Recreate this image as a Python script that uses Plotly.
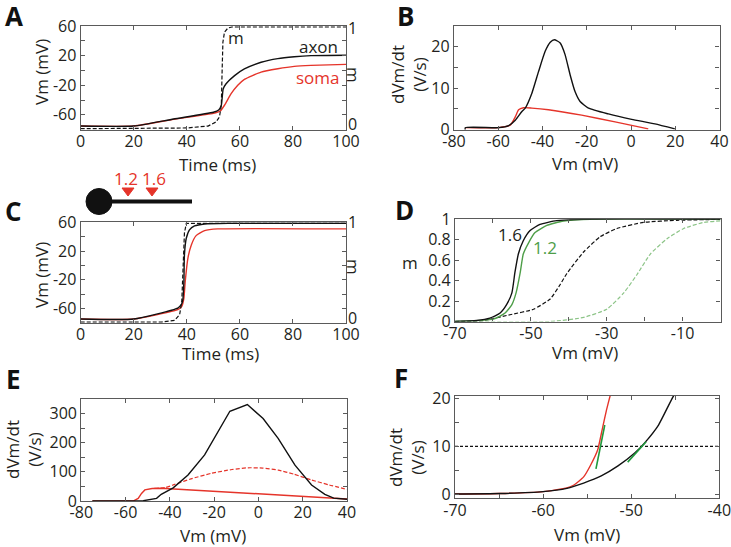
import plotly.graph_objects as go

W, H = 731, 547


def px(x):
    return x / W


def py(y):
    return 1 - y / H


# ---- panel A: voltage traces and m (time course) ----
a_axon_t = [0, 20, 35, 50, 52, 53, 53.7, 54.8, 58, 61.7, 68, 74.3, 80.5, 86.8, 100]
a_axon_v = [-75, -75, -65.5, -56.5, -53.5, -47, -25, -18, -7, 2, 11, 16, 18.5, 20, 20.5]
a_soma_t = [0, 20, 35, 50, 52.5, 54.2, 56.7, 59.2, 61.7, 68, 74.3, 80.5, 86.8, 100]
a_soma_v = [-75, -75, -66, -58, -55, -47, -31.4, -20, -12, -2.2, 2.3, 5.5, 6.8, 8.2]
a_m_t = [0, 20, 40, 48, 51, 52.3, 53, 53.3, 53.6, 54.2, 55.5, 57, 100]
a_m = [0, 0, 0.007, 0.026, 0.066, 0.115, 0.23, 0.56, 0.85, 0.95, 0.99, 1.0, 1.0]

# ---- panel B: phase plot ----
b_axon_v = [-74.9, -74.9, -59.8, -55.3, -52.3, -49.3, -47.8, -44.8, -41.8, -38.8, -36.5, -34.6,
            -32, -29.8, -27.5, -25.3, -23, -19.2, -10.2, 0.3, 10.8, 19.8]
b_axon_dv = [0, 0.5, 0.5, 1.0, 2.3, 4.4, 5.2, 8.8, 14, 18.9, 21.1, 21.7,
             20.9, 18.1, 13.2, 9.2, 6.8, 5.2, 3.8, 2.5, 1.4, 0.2]
b_soma_v = [-74.9, -59.8, -54.6, -52.3, -50.8, -48.6, -44.8, -37.3, -22.3, -7.2, 7.8]
b_soma_dv = [0.5, 0.5, 1.1, 3.1, 4.8, 5.3, 5.2, 4.8, 3.5, 1.9, 0.2]

# ---- panel C: high Na density ----
c_axon_t = [0, 20, 36.6, 37.9, 38.5, 38.9, 39.1, 39.8, 41, 42.9, 46.7, 55.5, 100]
c_axon_v = [-74.5, -74.5, -59.2, -54.6, -47.7, -22.3, 14.7, 37.8, 49.4, 54.9, 57.7, 58.6, 58.6]
c_soma_t = [0, 20, 36.6, 38.1, 38.9, 39.4, 40.4, 41.7, 43.5, 46.7, 51.7, 100]
c_soma_v = [-74.5, -74.5, -61.5, -56.9, -45.4, -22.3, 10, 28.6, 41.5, 48.4, 50.8, 50.8]
c_m_t = [0, 30.4, 35.4, 37.3, 38.1, 38.6, 39.1, 39.8, 100]
c_m = [0, 0, 0.017, 0.076, 0.21, 0.56, 0.9, 1.0, 1.0]

# ---- panel D: activation curves ----
d_16_v = [-70, -64.3, -60.8, -58.1, -56.4, -55.0, -54.2, -53.3, -52.0, -50.2, -47.6, -43.2, -36.1, 0]
d_16_m = [0, 0.01, 0.033, 0.083, 0.165, 0.28, 0.48, 0.66, 0.79, 0.89, 0.95, 0.987, 1.0, 1.0]
d_12_v = [-70, -59.9, -56.8, -55.0, -53.9, -52.8, -52.0, -50.6, -48.9, -45.8, -41.4, -34.3, 0]
d_12_m = [0, 0.023, 0.083, 0.165, 0.28, 0.48, 0.66, 0.77, 0.87, 0.94, 0.983, 1.0, 1.0]
d_16d_v = [-70, -62.5, -55.5, -49.3, -44.9, -42.3, -40.5, -36.1, -31.7, -27.3, -20.3, -11.5, 0]
d_16d_m = [0, 0.01, 0.066, 0.12, 0.22, 0.36, 0.47, 0.68, 0.83, 0.91, 0.97, 0.99, 1.0]
d_12d_v = [-70, -44.9, -36.1, -30, -25.5, -22, -18.5, -14.1, -9.7, -4.4, 0]
d_12d_m = [0, 0, 0.04, 0.12, 0.28, 0.46, 0.66, 0.81, 0.91, 0.97, 0.985]

# ---- panel E: phase plot, high density ----
e_axon_v = [-75, -56, -52, -46, -43.9, -38.5, -31.8, -24.3, -18.2, -12.9, -5.0, 2.1, 8.9, 16.5, 24, 30, 34, 40]
e_axon_dv = [0, 0, 1, 9, 23, 45, 89, 158, 237, 308, 331, 283, 215, 123, 55, 23, 10, 6]
e_soma_v = [-75, -56.6, -54.3, -52.8, -51.3, -48, -44, -20, 0, 20, 40]
e_soma_dv = [0, 0, 9, 26, 38, 43, 44, 33, 24, 15, 7]
e_somad_v = [-47, -42, -37.8, -30, -21.3, -12, -4.7, 2, 8.9, 16, 24, 32, 40]
e_somad_dv = [43, 46, 57, 77, 95, 108, 114, 113, 106, 92, 72, 55, 40]

# ---- panel F: onset rapidness ----
f_axon_v = [-70, -64.9, -60, -57.3, -55.4, -53.4, -51.5, -49.6, -48.5, -46.9, -45.2, -44.9]
f_axon_dv = [0, 0.1, 0.5, 1.2, 2.3, 3.8, 5.9, 8.6, 10.7, 14.5, 20.6, 21.2]
f_soma_v = [-70, -64.9, -60, -57.3, -56.5, -55.4, -54.6, -53.8, -53.3, -52.8, -52.4, -52.3]
f_soma_dv = [0, 0.1, 0.5, 1.3, 1.9, 3.6, 6.1, 9.3, 13.5, 17.7, 20.6, 21.3]
f_tan1_v = [-54.0, -53.0]
f_tan1_dv = [5.3, 14.5]
f_tan2_v = [-50.4, -48.3]
f_tan2_dv = [6.7, 11]
f_thresh = 10

BLACK = "#111111"
RED = "#e5342a"
GREEN = "#4e9e48"
LGREEN = "#8cc487"
TGREEN = "#1f9a3d"
AX = "#5a5a5a"
TXT = "#231f20"
FONT = "Open Sans"
FS = 17    # titles / labels
TFS = 16   # tick labels

fig = go.Figure()


def add_line(x, y, xa, ya, color, dash="solid", width=1.4, shape="spline"):
    fig.add_trace(go.Scatter(x=x, y=y, xaxis=xa, yaxis=ya, mode="lines",
                             line=dict(color=color, width=width, dash=dash, shape=shape, smoothing=0.5),
                             showlegend=False, hoverinfo="skip"))


DASH = "4px,2px"
add_line(a_m_t, a_m, "x", "y7", BLACK, DASH, 1.2, "linear")
add_line(a_soma_t, a_soma_v, "x", "y", RED)
add_line(a_axon_t, a_axon_v, "x", "y", BLACK)

add_line(b_soma_v, b_soma_dv, "x2", "y2", RED)
add_line(b_axon_v, b_axon_dv, "x2", "y2", BLACK)

add_line(c_m_t, c_m, "x3", "y8", BLACK, DASH, 1.2, "linear")
add_line(c_soma_t, c_soma_v, "x3", "y3", RED)
add_line(c_axon_t, c_axon_v, "x3", "y3", BLACK)

add_line(d_12d_v, d_12d_m, "x4", "y4", LGREEN, DASH, 1.2)
add_line(d_16d_v, d_16d_m, "x4", "y4", BLACK, DASH, 1.2)
add_line(d_12_v, d_12_m, "x4", "y4", GREEN)
add_line(d_16_v, d_16_m, "x4", "y4", BLACK)

add_line(e_somad_v, e_somad_dv, "x5", "y5", RED, DASH, 1.2)
add_line(e_soma_v, e_soma_dv, "x5", "y5", RED, shape="linear")
add_line(e_axon_v, e_axon_dv, "x5", "y5", BLACK, shape="linear")

fig.add_trace(go.Scatter(x=[-70, -40], y=[f_thresh, f_thresh], xaxis="x6", yaxis="y6", mode="lines",
                         line=dict(color=BLACK, width=1.2, dash="3px,2px"), showlegend=False, hoverinfo="skip"))
add_line(f_soma_v, f_soma_dv, "x6", "y6", RED)
add_line(f_axon_v, f_axon_dv, "x6", "y6", BLACK)
add_line(f_tan1_v, f_tan1_dv, "x6", "y6", TGREEN, width=1.6, shape="linear")
add_line(f_tan2_v, f_tan2_dv, "x6", "y6", TGREEN, width=1.6, shape="linear")


def axis(dom, anchor, rng, vals, labels, standoff=0):
    return dict(domain=dom, anchor=anchor, range=rng, tickvals=vals, ticktext=labels,
                ticks="inside", ticklen=4, tickwidth=1, tickcolor=AX, showline=True,
                linecolor=AX, linewidth=1.3, mirror="ticks", showgrid=False, zeroline=False,
                automargin=False, ticklabelstandoff=standoff, ticklabeloverflow="allow",
                tickfont=dict(family=FONT, size=TFS, color=TXT), fixedrange=True)


def blanks(vals, shown):
    return [str(v) if v in shown else "" for v in vals]


t_vals = [0, 20, 40, 60, 80, 100]
vm_vals = [-80, -60, -40, -20, 0, 20, 40, 60]
vm_text = blanks(vm_vals, [-60, -20, 20, 60])

xA = [px(80.7), px(346)]
xB = [px(454), px(719.5)]
yAB = [py(129.7), py(26)]
yC = [py(323), py(222.3)]
yD = [py(321.5), py(219.3)]
xD = [px(455), px(720.5)]
xE = [px(81.3), px(347)]
yE = [py(501), py(399)]
xF = [px(455), px(719.3)]
yF = [py(498.3), py(396)]

b_x = [-80, -60, -40, -20, 0, 20, 40]
b_y = [0, 5, 10, 15, 20]
d_x = [-70, -60, -50, -40, -30, -20, -10, 0]
d_y = [0, 0.2, 0.4, 0.6, 0.8, 1]
e_y = [0, 50, 100, 150, 200, 250, 300]
f_x = [-70, -65, -60, -55, -50, -45, -40]
f_y = [0, 5, 10, 15, 20]

m_axis = dict(side="right", range=[-0.01, 1.01], showticklabels=False,
              ticks="", showline=False, showgrid=False, zeroline=False, automargin=False,
              fixedrange=True)

XS = -3
fig.update_layout(
    width=W, height=H, margin=dict(l=0, r=0, t=0, b=0, pad=0, autoexpand=False),
    paper_bgcolor="white", plot_bgcolor="white",
    font=dict(family=FONT, size=FS, color=TXT),
    xaxis=axis(xA, "y", [0, 100], t_vals, [str(v) for v in t_vals], XS),
    yaxis=axis(yAB, "x", [-80, 60], vm_vals, vm_text),
    xaxis2=axis(xB, "y2", [-80, 40], b_x, [str(v) for v in b_x], XS),
    yaxis2=axis(yAB, "x2", [0, 25], b_y, blanks(b_y, [0, 10, 20])),
    xaxis3=axis(xA, "y3", [0, 100], t_vals, [str(v) for v in t_vals], XS),
    yaxis3=axis(yC, "x3", [-80, 60], vm_vals, vm_text),
    xaxis4=axis(xD, "y4", [-70, 0], d_x, blanks(d_x, [-70, -50, -30, -10]), XS),
    yaxis4=axis(yD, "x4", [0, 1], d_y, ["0", "0.2", "0.4", "0.6", "0.8", "1"]),
    xaxis5=axis(xE, "y5", [-80, 40], b_x, [str(v) for v in b_x], XS),
    yaxis5=axis(yE, "x5", [0, 350], e_y, blanks(e_y, [0, 100, 200, 300])),
    xaxis6=axis(xF, "y6", [-70, -40], f_x, blanks(f_x, [-70, -60, -50, -40]), XS),
    yaxis6=axis(yF, "x6", [-0.9, 20.6], f_y, blanks(f_y, [0, 10, 20])),
    yaxis7=dict(m_axis, overlaying="y", anchor="x"),
    yaxis8=dict(m_axis, overlaying="y3", anchor="x3"),
)

ann = []


def text(x, y, s, size=FS, color=TXT, angle=0, bold=False):
    ann.append(dict(x=px(x), y=py(y), xref="paper", yref="paper", text=f"<b>{s}</b>" if bold else s,
                    showarrow=False, textangle=angle, xanchor="center", yanchor="middle",
                    font=dict(family=FONT, size=size, color=color)))


# panel letters
for lbl, x, y in [("A", 14, 16), ("B", 405, 16), ("C", 13, 211), ("D", 404, 210), ("E", 13, 379), ("F", 401, 378)]:
    text(x, y, lbl, 26, "#111111", bold=True)

# axis titles
text(41, 72, "Vm (mV)", angle=-90)
text(217, 165, "Time (ms)")
text(354, 75, "m", angle=90)
text(352, 28, "1", TFS)
text(352, 124, "0", TFS)
text(408, 75, "dVm/dt<br>(V/s)", angle=-90)
text(585, 163, "Vm (mV)")
text(41, 275, "Vm (mV)", angle=-90)
text(220, 353, "Time (ms)")
text(354, 267, "m", angle=90)
text(352, 222, "1", TFS)
text(352, 318, "0", TFS)
text(410, 263, "m")
text(585, 352, "Vm (mV)")
text(23, 450, "dVm/dt<br>(V/s)", angle=-90)
text(213, 535, "Vm (mV)")
text(407, 457, "dVm/dt<br>(V/s)", angle=-90)
text(587, 534, "Vm (mV)")

# in-plot labels
text(236, 37, "m")
text(318, 47, "axon")
text(318, 77, "soma", color=RED)
text(510, 234, "1.6")
text(545, 247, "1.2", color=GREEN)
text(126, 179, "1.2", color=RED)
text(153.5, 179, "1.6", color=RED)

fig.update_layout(annotations=ann)

# neuron cartoon above panel C
fig.add_shape(type="line", xref="paper", yref="paper", x0=px(99), x1=px(192), y0=py(201.5), y1=py(201.5),
              line=dict(color="#111111", width=4))
fig.add_shape(type="circle", xref="paper", yref="paper", x0=px(86), x1=px(112), y0=py(214.5), y1=py(188.5),
              fillcolor="#111111", line=dict(color="#111111", width=1))
for cx in [128, 152]:
    path = f"M {px(cx - 6)},{py(188)} L {px(cx + 6)},{py(188)} L {px(cx)},{py(196)} Z"
    fig.add_shape(type="path", xref="paper", yref="paper", path=path, fillcolor=RED, line=dict(color=RED, width=1))

fig.write_html("out.html", config={"displayModeBar": False},
               post_script="document.body.style.margin='0px';")
